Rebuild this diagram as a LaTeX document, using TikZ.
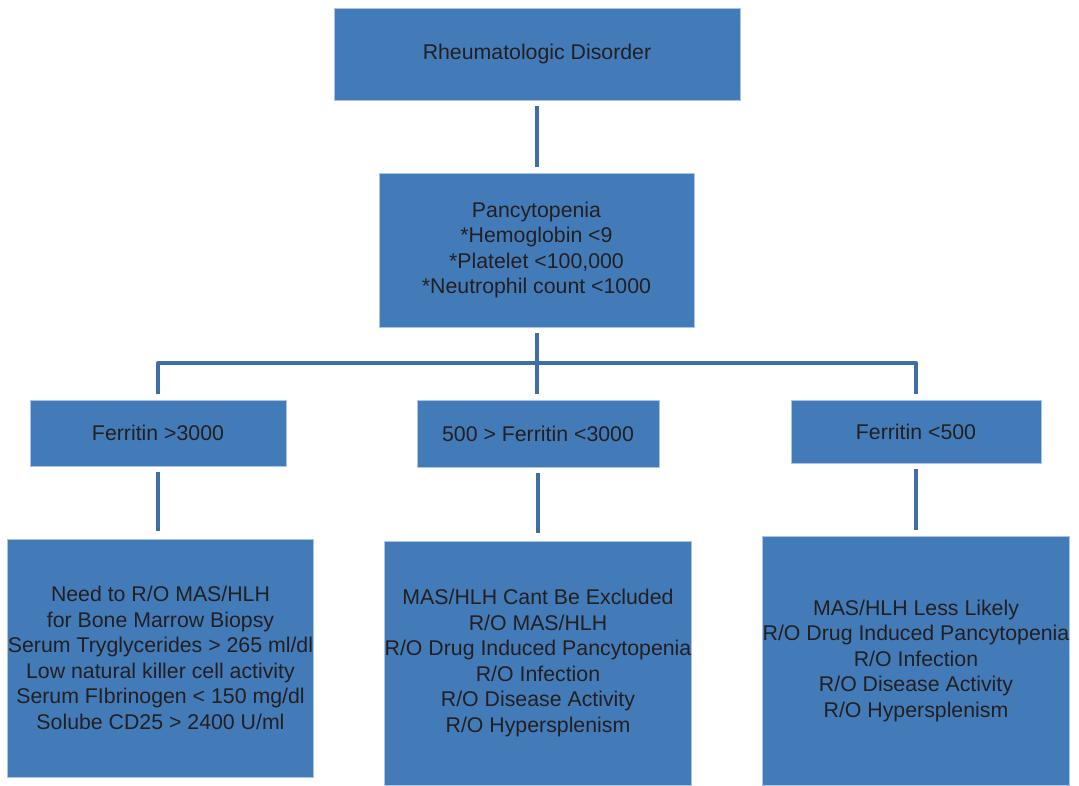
\documentclass[tikz,border=0pt]{standalone}
\usepackage{fontspec}
\setmainfont{Liberation Sans}
\definecolor{boxfill}{HTML}{437BB9}
\definecolor{boxedge}{HTML}{A9C4E4}
\definecolor{linecol}{HTML}{3F6EA6}
\definecolor{txt}{HTML}{231F20}
\begin{document}
\begin{tikzpicture}[x=1pt,y=-1pt,
  box/.style={rectangle, fill=boxfill, draw=boxedge, line width=0.8pt, inner sep=0pt,
    align=center, text=txt, font=\fontsize{21.3}{25.5}\selectfont},
  conn/.style={draw=linecol, line width=4pt}]
\useasboundingbox (0,0) rectangle (1079,785);
\node[box, minimum width=406pt, minimum height=92pt] (top) at (537,54) {Rheumatologic Disorder};
\node[box, minimum width=315pt, minimum height=154pt] (pan) at (536.5,250)
  {Pancytopenia\\*Hemoglobin <9\\*Platelet <100,000\\*Neutrophil count <1000};
\node[box, minimum width=256pt, minimum height=66pt] (f1) at (158,433) {Ferritin >3000};
\node[box, minimum width=242pt, minimum height=67pt] (f2) at (538,433.5) {500 > Ferritin <3000};
\node[box, minimum width=250pt, minimum height=63pt] (f3) at (916,431.5) {Ferritin <500};
\node[box, minimum width=305pt, minimum height=238pt] (d1) at (160.5,658)
  {Need to R/O MAS/HLH\\for Bone Marrow Biopsy\\Serum Tryglycerides > 265 ml/dl\\Low natural killer cell activity\\Serum FIbrinogen < 150 mg/dl\\Solube CD25 > 2400 U/ml};
\node[box, minimum width=306pt, minimum height=244pt] (d2) at (538,663)
  {MAS/HLH Cant Be Excluded\\R/O MAS/HLH\\R/O Drug Induced Pancytopenia\\R/O Infection\\R/O Disease Activity\\R/O Hypersplenism};
\node[box, minimum width=306pt, minimum height=249pt] (d3) at (916,660.5)
  {MAS/HLH Less Likely\\R/O Drug Induced Pancytopenia\\R/O Infection\\R/O Disease Activity\\R/O Hypersplenism};
\coordinate (j) at (537,363);
\draw[conn, shorten <=6pt, shorten >=6pt] (top.south) -- (top.south |- pan.north);
\draw[conn, shorten <=6pt, shorten >=6pt] (pan.south) -- (pan.south |- f2.north);
\draw[conn, line join=round, shorten >=6pt] (j) -| (f1.north);
\draw[conn, line join=round, shorten >=6pt] (j) -| (f3.north);
\draw[conn, shorten <=6pt, shorten >=8pt] (f1.south) -- (f1.south |- d1.north);
\draw[conn, shorten <=6pt, shorten >=8pt] (f2.south) -- (f2.south |- d2.north);
\draw[conn, shorten <=6pt, shorten >=6pt] (f3.south) -- (f3.south |- d3.north);
\end{tikzpicture}
\end{document}
